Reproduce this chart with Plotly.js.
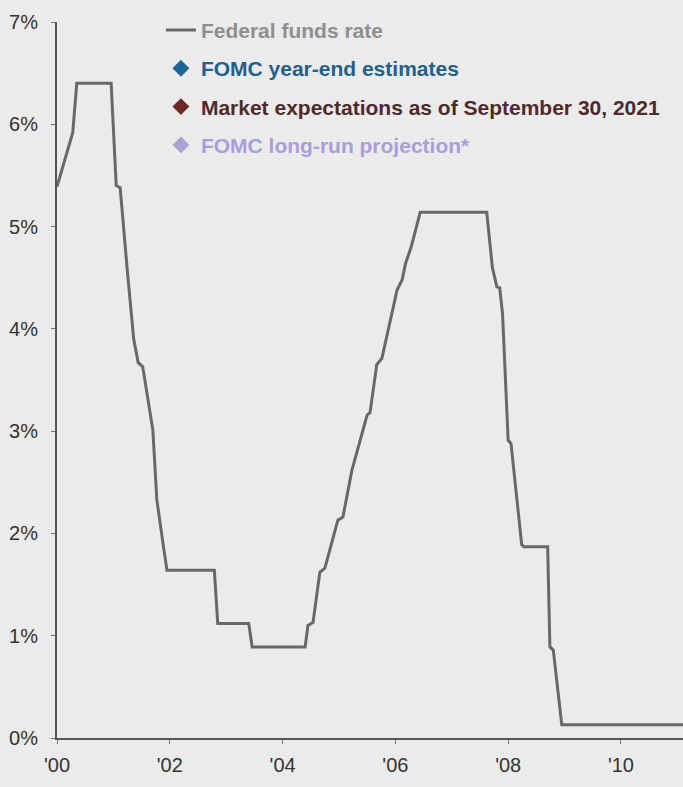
<!DOCTYPE html>
<html>
<head>
<meta charset="utf-8">
<script src="https://cdn.plot.ly/plotly-3.0.1.min.js"></script>
<style>
  html, body { margin: 0; padding: 0; background: #ebebeb; }
  #chart { width: 683px; height: 787px; }
</style>
</head>
<body>
<div id="chart"></div>
<script>
// Federal funds rate, sampled at turning points (decimal year, percent)
const fedDates = [
  2000.00, 2000.28, 2000.35, 2000.96, 2001.05, 2001.12, 2001.25, 2001.36,
  2001.44, 2001.52, 2001.70, 2001.77, 2001.88, 2001.95, 2002.79, 2002.85,
  2003.40, 2003.46, 2004.40, 2004.45, 2004.54, 2004.66, 2004.75, 2004.84,
  2004.98, 2005.07, 2005.23, 2005.50, 2005.55, 2005.67, 2005.76, 2005.99,
  2006.03, 2006.12, 2006.18, 2006.28, 2006.44, 2007.62, 2007.68, 2007.72,
  2007.80, 2007.85, 2007.90, 2008.00, 2008.05, 2008.24, 2008.28, 2008.70,
  2008.74, 2008.80, 2008.95, 2011.20
];
const fedRate = [
  5.39, 5.92, 6.40, 6.40, 5.40, 5.38, 4.55, 3.90,
  3.67, 3.63, 3.01, 2.33, 1.90, 1.64, 1.64, 1.12,
  1.12, 0.89, 0.89, 1.10, 1.13, 1.62, 1.66, 1.84,
  2.13, 2.16, 2.62, 3.16, 3.18, 3.65, 3.71, 4.28,
  4.38, 4.48, 4.64, 4.80, 5.14, 5.14, 4.80, 4.60,
  4.41, 4.40, 4.15, 2.91, 2.88, 1.89, 1.87, 1.87,
  0.89, 0.86, 0.13, 0.13
];

// Projection series (their points fall beyond the visible window)
const fomcYearEndDates = [];
const fomcYearEndRates = [];
const marketDates = [];
const marketRates = [];
const longRunDates = [];
const longRunRates = [];

const xTickVals = [2000, 2002, 2004, 2006, 2008, 2010];
const xTickText = ["'00", "'02", "'04", "'06", "'08", "'10"];
const yTickVals = [0, 1, 2, 3, 4, 5, 6, 7];
const yTickText = ["0%", "1%", "2%", "3%", "4%", "5%", "6%", "7%"];

const legendNames = [
  '<b><span style="color:#8f8f8f">Federal funds rate</span></b>',
  '<b><span style="color:#22608c">FOMC year-end estimates</span></b>',
  '<b><span style="color:#4e2a2a">Market expectations as of September 30, 2021</span></b>',
  '<b><span style="color:#ab9dda">FOMC long-run projection*</span></b>'
];

function orNull(a) { return a.length ? a : [null]; }

const traces = [
  {
    x: fedDates, y: fedRate, type: 'scatter', mode: 'lines',
    name: legendNames[0], legendgroup: 'a',
    line: { color: '#686868', width: 3 },
    hoverinfo: 'skip'
  },
  {
    x: orNull(fomcYearEndDates), y: orNull(fomcYearEndRates), type: 'scatter', mode: 'markers',
    name: legendNames[1], legendgroup: 'b',
    marker: { symbol: 'diamond', size: 13, color: '#1d6693' }
  },
  {
    x: orNull(marketDates), y: orNull(marketRates), type: 'scatter', mode: 'markers',
    name: legendNames[2], legendgroup: 'c',
    marker: { symbol: 'diamond', size: 13, color: '#6e2a2a' }
  },
  {
    x: orNull(longRunDates), y: orNull(longRunRates), type: 'scatter', mode: 'markers',
    name: legendNames[3], legendgroup: 'd',
    marker: { symbol: 'diamond', size: 13, color: '#aba2d6' }
  }
];

const layout = {
  width: 683, height: 787,
  margin: { l: 57, r: 0, t: 22, b: 49 },
  paper_bgcolor: '#ebebeb',
  plot_bgcolor: '#ebebeb',
  font: { family: 'Liberation Sans, Arial, sans-serif', size: 20, color: '#333333' },
  showlegend: true,
  legend: {
    x: 0.166, xanchor: 'left',
    y: 1.017, yanchor: 'top',
    bgcolor: 'rgba(0,0,0,0)',
    traceorder: 'grouped',
    tracegroupgap: 8,
    itemwidth: 30,
    font: { size: 21, family: 'Liberation Sans, Arial, sans-serif' }
  },
  xaxis: {
    range: [2000, 2011.1],
    tickmode: 'array', tickvals: xTickVals, ticktext: xTickText,
    showgrid: false, zeroline: false,
    showline: true, linecolor: '#555555', linewidth: 2,
    ticks: 'outside', ticklen: 4, tickcolor: '#777777',
    ticklabelstandoff: 4,
    tickfont: { size: 20, color: '#333333' },
    fixedrange: true
  },
  yaxis: {
    range: [0, 7],
    tickmode: 'array', tickvals: yTickVals, ticktext: yTickText,
    showgrid: false, zeroline: false,
    showline: true, linecolor: '#555555', linewidth: 2,
    ticks: 'outside', ticklen: 4, tickcolor: '#777777',
    ticklabelstandoff: 9,
    tickfont: { size: 20, color: '#333333' },
    fixedrange: true
  }
};

Plotly.newPlot('chart', traces, layout, { displayModeBar: false, staticPlot: true });
</script>
</body>
</html>
